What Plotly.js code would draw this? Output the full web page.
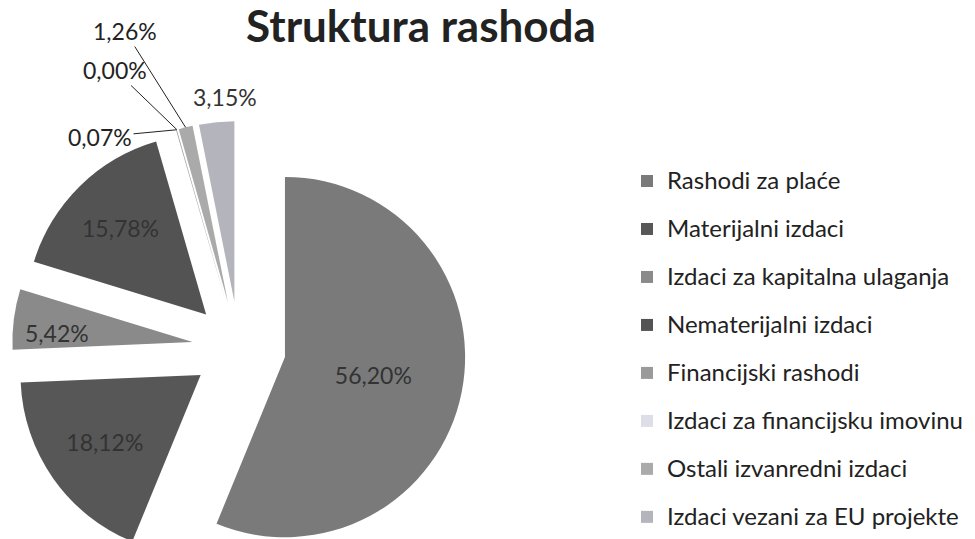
<!DOCTYPE html>
<html>
<head>
<meta charset="utf-8">
<script src="https://cdn.plot.ly/plotly-3.0.1.min.js"></script>
<style>
  html, body { margin: 0; padding: 0; overflow: hidden; background: #fff; }
  #chart { width: 975px; height: 640px; }
</style>
</head>
<body>
<div id="chart"></div>
<script>
// Struktura rashoda (%)
const categories = [
    'Rashodi za plaće',
    'Materijalni izdaci',
    'Izdaci za kapitalna ulaganja',
    'Nematerijalni izdaci',
    'Financijski rashodi',
    'Izdaci za financijsku imovinu',
    'Ostali izvanredni izdaci',
    'Izdaci vezani za EU projekte'
];
const shares = [56.20, 18.12, 5.42, 15.78, 0.07, 0.00, 1.26, 3.15];
const sliceColors = ['#7a7a7a', '#575757', '#8a8a8a', '#535353', '#9a9a9a', '#dedee8', '#aaaaaa', '#b4b4bc'];
// 'none' = label drawn as a callout further down
const labelPositions = ['inside', 'inside', 'none', 'inside', 'none', 'none', 'none', 'none'];
// callout labels of the narrow slices (px), with or without a leader line
const calloutIdx = [2, 4, 5, 6, 7];
const calloutPos = [[57, 333], [100, 137], [115, 70], [125, 31], [225, 97]];
const calloutLine = [false, true, true, true, false];

const W = 975, H = 640;
const PULL = 0.26;
const domX = [12 / W, 466 / W];
const domY = [1 - 575 / H, 1 - 121 / H];
const FONT = 'Lato, sans-serif';

const fmtPct = v => v.toFixed(2).replace('.', ',') + '%';

const trace = {
    type: 'pie',
    labels: categories.map(c => '<span style="font-size:24px;baseline-shift:5px">' + c + '</span>'),
    values: shares,
    sort: false,
    direction: 'clockwise',
    rotation: 0,
    pull: categories.map(() => PULL),
    marker: { colors: sliceColors, line: { width: 0 } },
    texttemplate: '%{percent:.2%}',
    textposition: labelPositions,
    insidetextorientation: 'horizontal',
    textfont: { family: FONT, size: 23, color: '#333' },
    domain: { x: domX, y: domY },
    hoverinfo: 'label+percent'
};

// pie geometry, same as plotly computes it, to point the callouts at the slices
const total = shares.reduce((a, b) => a + b, 0);
const boxW = W * (domX[1] - domX[0]), boxH = H * (domY[1] - domY[0]);
const R = Math.min(boxW, boxH) / 2 / (1 + PULL);
const cx = W * (domX[0] + domX[1]) / 2;
const cy = H * (1 - (domY[0] + domY[1]) / 2);

const annotations = calloutIdx.map((idx, k) => {
    const ann = {
        text: fmtPct(shares[idx]),
        xref: 'paper', yref: 'paper',
        xanchor: 'center', yanchor: 'middle',
        font: { family: FONT, size: 23, color: calloutLine[k] ? '#222' : '#333' }
    };
    if (!calloutLine[k]) {
        return Object.assign(ann, { x: calloutPos[k][0] / W, y: 1 - calloutPos[k][1] / H, showarrow: false });
    }
    const before = shares.slice(0, idx).reduce((a, b) => a + b, 0);
    const theta = 2 * Math.PI * (before + shares[idx] / 2) / total;
    const tipX = cx + (1 + PULL) * R * Math.sin(theta);
    const tipY = cy - (1 + PULL) * R * Math.cos(theta);
    return Object.assign(ann, {
        x: tipX / W, y: 1 - tipY / H,
        axref: 'paper', ayref: 'paper',
        ax: calloutPos[k][0] / W, ay: 1 - calloutPos[k][1] / H,
        showarrow: true, arrowhead: 0, arrowwidth: 1, arrowcolor: '#222'
    });
});

const layout = {
    width: W,
    height: H,
    margin: { l: 0, r: 0, t: 0, b: 0 },
    separators: ',.',
    paper_bgcolor: '#fff',
    title: {
        text: '<b>Struktura rashoda</b>',
        font: { family: FONT, size: 44, color: '#222' },
        xref: 'paper', yref: 'container',
        x: 421 / W, xanchor: 'center',
        y: 1 - 27 / H, yanchor: 'middle'
    },
    annotations: annotations,
    showlegend: true,
    legend: {
        x: 627 / W, xanchor: 'left',
        y: 1 - 152 / H, yanchor: 'top',
        font: { family: FONT, size: 34.6, color: '#222' },
        traceorder: 'normal',
        itemwidth: 30
    }
};

Plotly.newPlot('chart', [trace], layout, { displayModeBar: false, staticPlot: true });
</script>
</body>
</html>
